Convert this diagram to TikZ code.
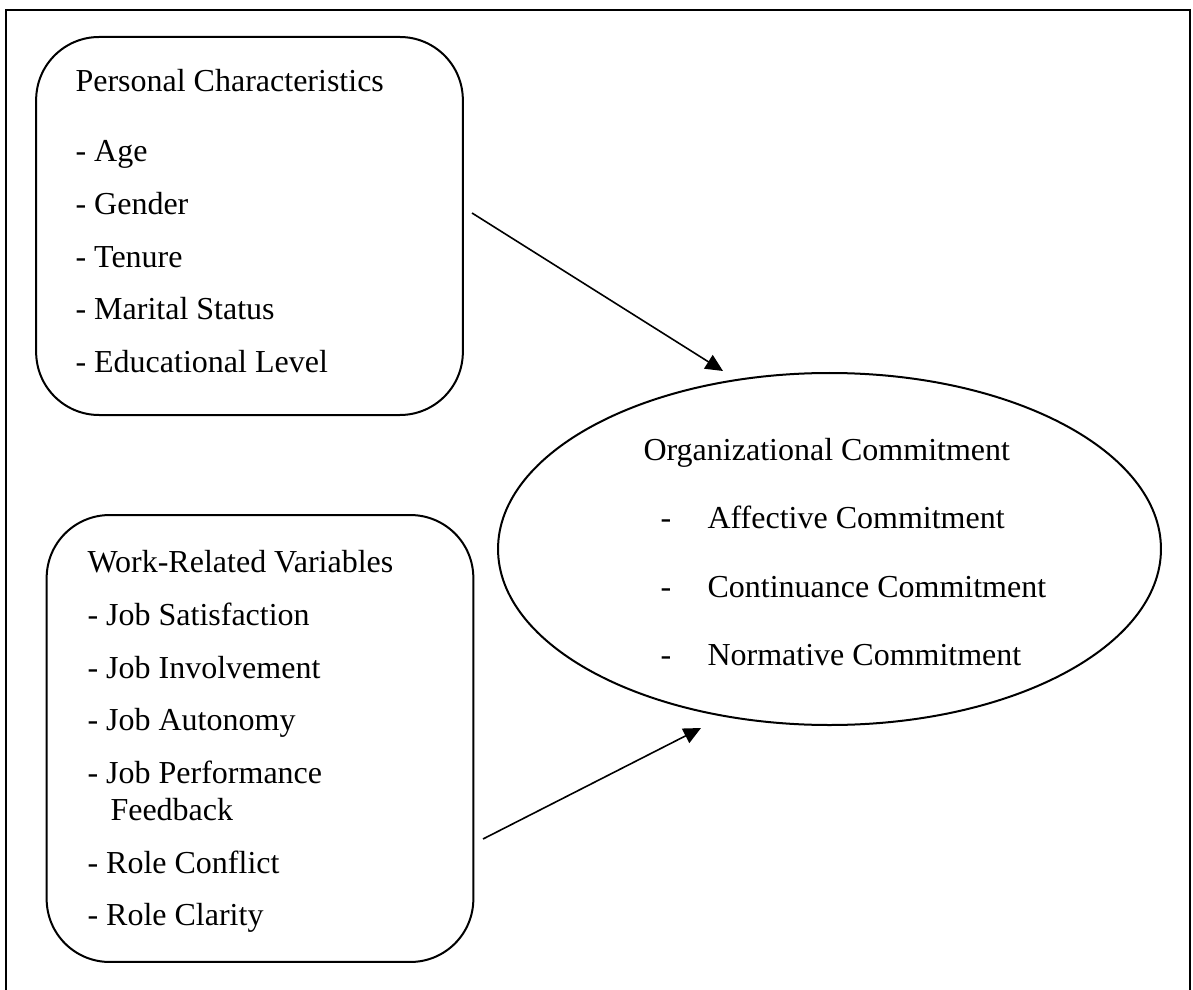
\documentclass[tikz,border=0pt]{standalone}
\usepackage{fontspec}
\setmainfont{Liberation Serif}
\usetikzlibrary{arrows.meta,shapes.geometric}

\begin{document}
\begin{tikzpicture}[x=0.375pt, y=-0.375pt,
    box/.style={draw, line width=0.75pt, rounded corners=23.6pt, minimum width=160pt, inner sep=0},
    txt/.style={anchor=base west, inner sep=0, font=\fontsize{12}{14}\selectfont},
    link/.style={-{Triangle[length=6.5pt,width=6pt]}, line width=0.6pt}]

    \useasboundingbox (0,0) rectangle (1193,990);
    \draw[line width=0.75pt] (6,990) -- (6,10) -- (1190,10) -- (1190,990);

    \node[box, minimum height=141.75pt] (pc) at (249.5,226) {};
    \node[box, minimum height=167.6pt] (wr) at (260,738.5) {};
    \node[draw, ellipse, line width=0.75pt, minimum width=248.6pt, minimum height=132pt, inner sep=0] (oc) at (829.5,549) {};

    \node[txt] (pc-head) at (75,92) {Personal Characteristics};
    \foreach \name/\y [count=\i] in {Age/162, Gender/215, Tenure/268, Marital Status/320, Educational Level/373}
      \node[txt] (pc-\i) at (75,\y) {- \name};

    \node[txt] (wr-head) at (87,572) {Work-Related Variables};
    \foreach \name/\y [count=\i] in {Job Satisfaction/625, Job Involvement/678, Job Autonomy/730, Job Performance/783, Role Conflict/873, Role Clarity/925}
      \node[txt] (wr-\i) at (87,\y) {- \name};
    \node[txt] (wr-fb) at (110,820) {Feedback};

    \node[txt] (oc-head) at (643,460) {Organizational Commitment};
    \foreach \name/\y [count=\i] in {Affective/528, Continuance/597, Normative/665}
    {
      \node[txt] (oc-d\i) at (660,\y) {-};
      \node[txt] (oc-\i) at (707,\y) {\name{} Commitment};
    }

    \coordinate (pc-out) at (472,213);
    \coordinate (oc-in1) at (723,371);
    \coordinate (wr-out) at (483,839);
    \coordinate (oc-in2) at (701,728);
    \draw[link] (pc-out) -- (oc-in1);
    \draw[link] (wr-out) -- (oc-in2);

\end{tikzpicture}
\end{document}
